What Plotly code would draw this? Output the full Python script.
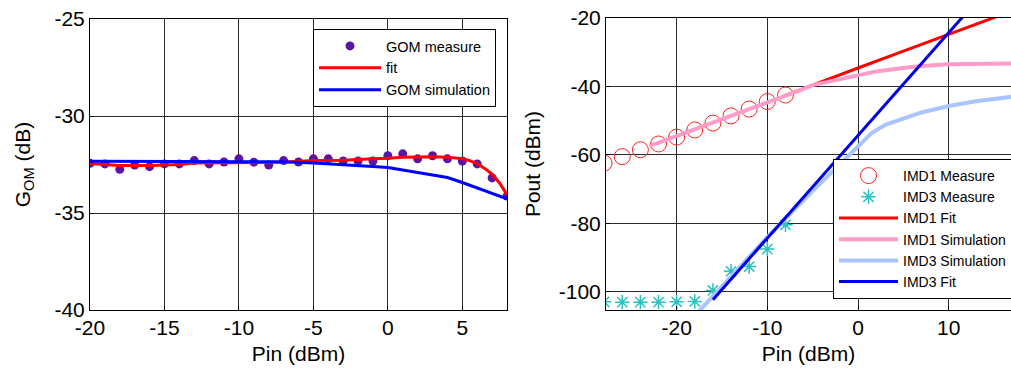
import plotly.graph_objects as go

# ---------------- Left panel data ----------------
gom_pin = list(range(-20, 9))
gom_measure = [-32.44, -32.47, -32.75, -32.53, -32.61, -32.47, -32.47, -32.30, -32.47, -32.37,
               -32.21, -32.38, -32.53, -32.30, -32.37, -32.21, -32.21, -32.32, -32.32, -32.32,
               -32.05, -31.95, -32.21, -32.05, -32.21, -32.32, -32.47, -33.19, -34.13]

fit_pin = [-20, -18, -16, -14, -13, -10, -7, -5, -3, -1, 0, 1, 2, 3, 4, 5, 5.5, 6, 6.5, 7, 7.5, 8]
fit_gom = [-32.45, -32.55, -32.55, -32.5, -32.42, -32.4, -32.38, -32.3, -32.28, -32.2, -32.18,
           -32.12, -32.1, -32.1, -32.12, -32.2, -32.3, -32.45, -32.7, -33.0, -33.45, -34.05]

sim_pin = [-20, -15, -10, -7, -5, -3, -1, 0, 2, 4, 5, 6, 7, 8]
sim_gom = [-32.33, -32.33, -32.34, -32.36, -32.42, -32.5, -32.6, -32.66, -32.9, -33.17, -33.43,
           -33.7, -33.98, -34.27]

left_xticks = [-20, -15, -10, -5, 0, 5]
left_xtext = ["-20", "-15", "-10", "-5", "0", "5"]
left_yticks = [-40, -35, -30, -25]
left_ytext = ["-40", "-35", "-30", "-25"]

# ---------------- Right panel data ----------------
imd1_meas_pin = [-28, -26, -24, -22, -20, -18, -16, -14, -12, -10, -8]
imd1_meas = [-62.4, -60.5, -58.5, -56.8, -54.8, -52.7, -50.7, -48.6, -46.6, -44.4, -42.5]

imd3_meas_pin = [-28, -26, -24, -22, -20, -18, -16, -14, -12, -10, -8]
imd3_meas = [-102.9, -103.0, -103.0, -103.0, -102.9, -102.8, -99.6, -94.0, -92.6, -87.5, -80.4]

imd1_fit_pin = [-8, -4, 0, 5, 10, 15, 17]
imd1_fit = [-42.6, -38.5, -34.6, -29.7, -24.7, -19.8, -17.9]

imd1_sim_pin = [-23, -20, -15, -10, -7, -5, -3, -2, 0, 2, 5, 7, 10, 13, 17]
imd1_sim = [-57.4, -54.5, -49.6, -44.6, -41.7, -39.6, -38.4, -37.9, -36.7, -35.6, -34.6, -34.0,
            -33.5, -33.4, -33.3]

imd3_sim_pin = [-18, -15, -10, -5, -2, 0, 1.5, 3, 5.4, 7, 10, 13, 17]
imd3_sim = [-107.0, -98.5, -84.0, -70.5, -62.6, -57.5, -53.6, -51.2, -48.9, -47.6, -45.7, -44.3, -43.0]

imd3_fit_pin = [-16, 12]
imd3_fit = [-102.3, -18.3]

right_xticks = [-20, -10, 0, 10]
right_xtext = ["-20", "-10", "0", "10"]
right_yticks = [-100, -80, -60, -40, -20]
right_ytext = ["-100", "-80", "-60", "-40", "-20"]

FONT = "Arial, Liberation Sans, sans-serif"
GRID = "#2a2a2a"

fig = go.Figure()

# Left panel
fig.add_trace(go.Scatter(x=gom_pin, y=gom_measure, mode="markers", name="GOM measure",
                         marker=dict(color="#5a14a8", size=9), xaxis="x", yaxis="y", legend="legend"))
fig.add_trace(go.Scatter(x=fit_pin, y=fit_gom, mode="lines", name="fit",
                         line=dict(color="#ff0000", width=3), xaxis="x", yaxis="y", legend="legend"))
fig.add_trace(go.Scatter(x=sim_pin, y=sim_gom, mode="lines", name="GOM simulation",
                         line=dict(color="#0000ff", width=3), xaxis="x", yaxis="y", legend="legend"))

# Right panel
fig.add_trace(go.Scatter(x=imd1_meas_pin, y=imd1_meas, mode="markers", name="IMD1 Measure",
                         marker=dict(symbol="circle-open", color="#ff2020", size=16, line=dict(width=1)),
                         xaxis="x2", yaxis="y2", legend="legend2"))
fig.add_trace(go.Scatter(x=imd3_meas_pin, y=imd3_meas, mode="markers", name="IMD3 Measure",
                         marker=dict(symbol="asterisk-open", color="#2cc0c0", size=12,
                                     line=dict(width=1.5, color="#2cc0c0")),
                         xaxis="x2", yaxis="y2", legend="legend2"))
fig.add_trace(go.Scatter(x=imd1_fit_pin, y=imd1_fit, mode="lines", name="IMD1 Fit",
                         line=dict(color="#ff0000", width=3), xaxis="x2", yaxis="y2", legend="legend2"))
fig.add_trace(go.Scatter(x=imd1_sim_pin, y=imd1_sim, mode="lines", name="IMD1 Simulation",
                         line=dict(color="#ff9cc8", width=4), xaxis="x2", yaxis="y2", legend="legend2"))
fig.add_trace(go.Scatter(x=imd3_sim_pin, y=imd3_sim, mode="lines", name="IMD3 Simulation",
                         line=dict(color="#aac4ff", width=4), xaxis="x2", yaxis="y2", legend="legend2"))
fig.add_trace(go.Scatter(x=imd3_fit_pin, y=imd3_fit, mode="lines", name="IMD3 Fit",
                         line=dict(color="#0000e8", width=3), xaxis="x2", yaxis="y2", legend="legend2"))

axis_common = dict(showline=True, linecolor="black", linewidth=1, mirror=True,
                   showgrid=True, gridcolor=GRID, gridwidth=1, zeroline=False,
                   ticks="inside", ticklen=4, tickcolor="black", automargin=False,
                   tickfont=dict(family=FONT, size=21, color="black"))

fig.update_layout(
    width=1011, height=368,
    margin=dict(l=0, r=0, t=0, b=0, autoexpand=False),
    paper_bgcolor="white", plot_bgcolor="white",
    font=dict(family=FONT, color="black"),
    xaxis=dict(domain=[90/1011, 507/1011], range=[-20, 8], tickvals=left_xticks, ticktext=left_xtext,
               title=dict(text="Pin (dBm)", font=dict(size=21), standoff=8), anchor="y",
               ticklabelstandoff=-1, **axis_common),
    yaxis=dict(domain=[1-310/368, 1-19/368], range=[-40, -25], tickvals=left_yticks, ticktext=left_ytext,
               title=dict(text="G<sub>OM</sub> (dB)", font=dict(size=21), standoff=18), anchor="x",
               **axis_common),
    xaxis2=dict(domain=[606/1011, 1.0], range=[-27.79, 16.87], tickvals=right_xticks, ticktext=right_xtext,
                title=dict(text="Pin (dBm)", font=dict(size=21), standoff=8), anchor="y2",
                ticklabelstandoff=-1, **axis_common),
    yaxis2=dict(domain=[1-310/368, 1-18/368], range=[-105.3, -20], tickvals=right_yticks, ticktext=right_ytext,
                title=dict(text="Pout (dBm)", font=dict(size=21), standoff=12), anchor="x2",
                **axis_common),
    legend=dict(x=313/1011, y=1-29/368, xanchor="left", yanchor="top",
                bgcolor="white", bordercolor="black", borderwidth=1,
                font=dict(family=FONT, size=14.5, color="black"), itemwidth=62),
    legend2=dict(x=833/1011, y=1-159/368, xanchor="left", yanchor="top",
                 bgcolor="white", bordercolor="black", borderwidth=1,
                 font=dict(family=FONT, size=14, color="black"), itemwidth=59),
    showlegend=True,
)

fig.write_html("out.html", config={"displayModeBar": False},
               post_script="document.body.style.margin='0';document.body.style.overflow='hidden';")
